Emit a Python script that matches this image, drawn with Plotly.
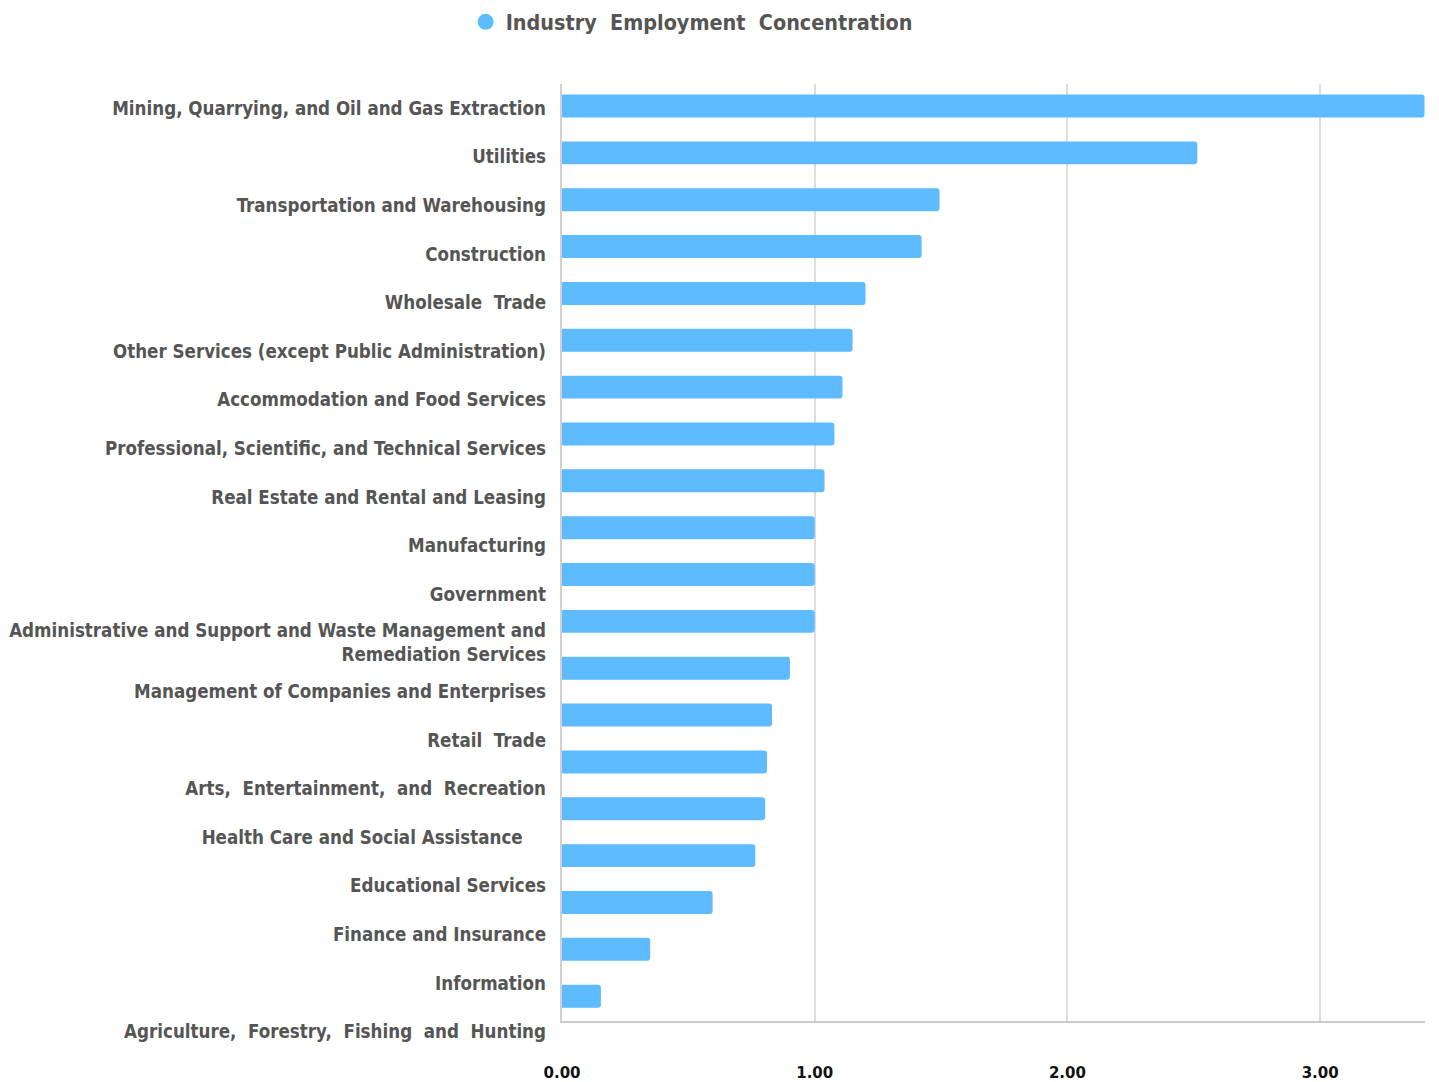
import plotly.graph_objects as go

NBSP = "\u00a0"

industries = [
    "Mining, Quarrying, and Oil and Gas Extraction",
    "Utilities",
    "Transportation and Warehousing",
    "Construction",
    "Wholesale  Trade",
    "Other Services (except Public Administration)",
    "Accommodation and Food Services",
    "Professional, Scientific, and Technical Services",
    "Real Estate and Rental and Leasing",
    "Manufacturing",
    "Government",
    "Administrative and Support and Waste Management and<br>Remediation Services",
    "Management of Companies and Enterprises",
    "Retail  Trade",
    "Arts,  Entertainment,  and  Recreation",
    "Health Care and Social Assistance" + NBSP * 4,
    "Educational Services",
    "Finance and Insurance",
    "Information",
    "Agriculture,  Forestry,  Fishing  and  Hunting",
]

concentration = [3.413, 2.514, 1.494, 1.423, 1.201, 1.150, 1.110, 1.078, 1.039, 1.000,
                 1.000, 1.000, 0.902, 0.831, 0.811, 0.804, 0.765, 0.596, 0.349, 0.154]

series_name = "Industry  Employment  Concentration"
x_ticks = [0, 1, 2, 3]

bar_color = "#5EBBFF"
label_color = "#555555"
font_cond = "DejaVu Sans Condensed, DejaVu Sans, sans-serif"

cats = list(range(len(industries)))

fig = go.Figure()

fig.add_trace(go.Bar(
    x=concentration, y=cats, orientation="h",
    marker=dict(color=bar_color, line=dict(width=0)),
    showlegend=False, name=series_name,
    xaxis="x", yaxis="y",
))

# legend-only marker
fig.add_trace(go.Scatter(
    x=[None], y=[None], mode="markers", name=series_name,
    marker=dict(color=bar_color, size=20, symbol="circle"),
    xaxis="x", yaxis="y",
))

# invisible trace carrying the category labels
fig.add_trace(go.Scatter(
    x=[0] * len(industries), y=cats, mode="markers",
    marker=dict(opacity=0), showlegend=False, hoverinfo="skip",
    xaxis="x2", yaxis="y2",
))

W, H = 1431, 1074
ml, mr, mt, mb = 554, 14, 76, 26
plot_h = H - mt - mb
main_bottom = (H - mb - 1013) / plot_h

fig.update_layout(
    width=W, height=H,
    margin=dict(l=ml, r=mr, t=mt, b=mb, autoexpand=False),
    plot_bgcolor="rgba(0,0,0,0)", paper_bgcolor="white",
    bargap=0.51,
    barcornerradius=3,
    showlegend=True,
    legend=dict(
        orientation="h", xref="container", yref="container",
        x=0.3198, xanchor="left", y=0.987, yanchor="middle",
        font=dict(family=font_cond, size=21.4, color=label_color, weight="bold"),
        itemsizing="trace",
    ),
    xaxis=dict(
        domain=[0, 1], anchor="y", range=[0, 3.415],
        tickvals=x_ticks, tickformat=".2f",
        showgrid=True, gridcolor="#DDDDDD", gridwidth=1.5,
        showline=True, linecolor="#CCCCCC", linewidth=2,
        zeroline=False, ticks="",
        ticklabelstandoff=37,
        tickfont=dict(family="DejaVu Sans, sans-serif", size=15, color="#111111", weight="bold"),
    ),
    yaxis=dict(
        domain=[main_bottom, 1], anchor="x",
        tickvals=cats, range=[len(cats) - 0.47, -0.47],
        showticklabels=False, showgrid=False,
        showline=True, linecolor="#D0D0D0", linewidth=1.5,
        zeroline=False, ticks="",
    ),
    xaxis2=dict(domain=[0, 1], anchor="y2", visible=False, range=[0, 1]),
    yaxis2=dict(
        domain=[0, 1], anchor="x2",
        tickvals=cats, ticktext=industries,
        range=[len(cats) - 0.5, -0.5],
        showgrid=False, showline=False, zeroline=False, ticks="",
        ticklabelstandoff=15,
        tickfont=dict(family=font_cond, size=18.6, color=label_color, weight="bold"),
    ),
)

fig.write_html("out.html")
